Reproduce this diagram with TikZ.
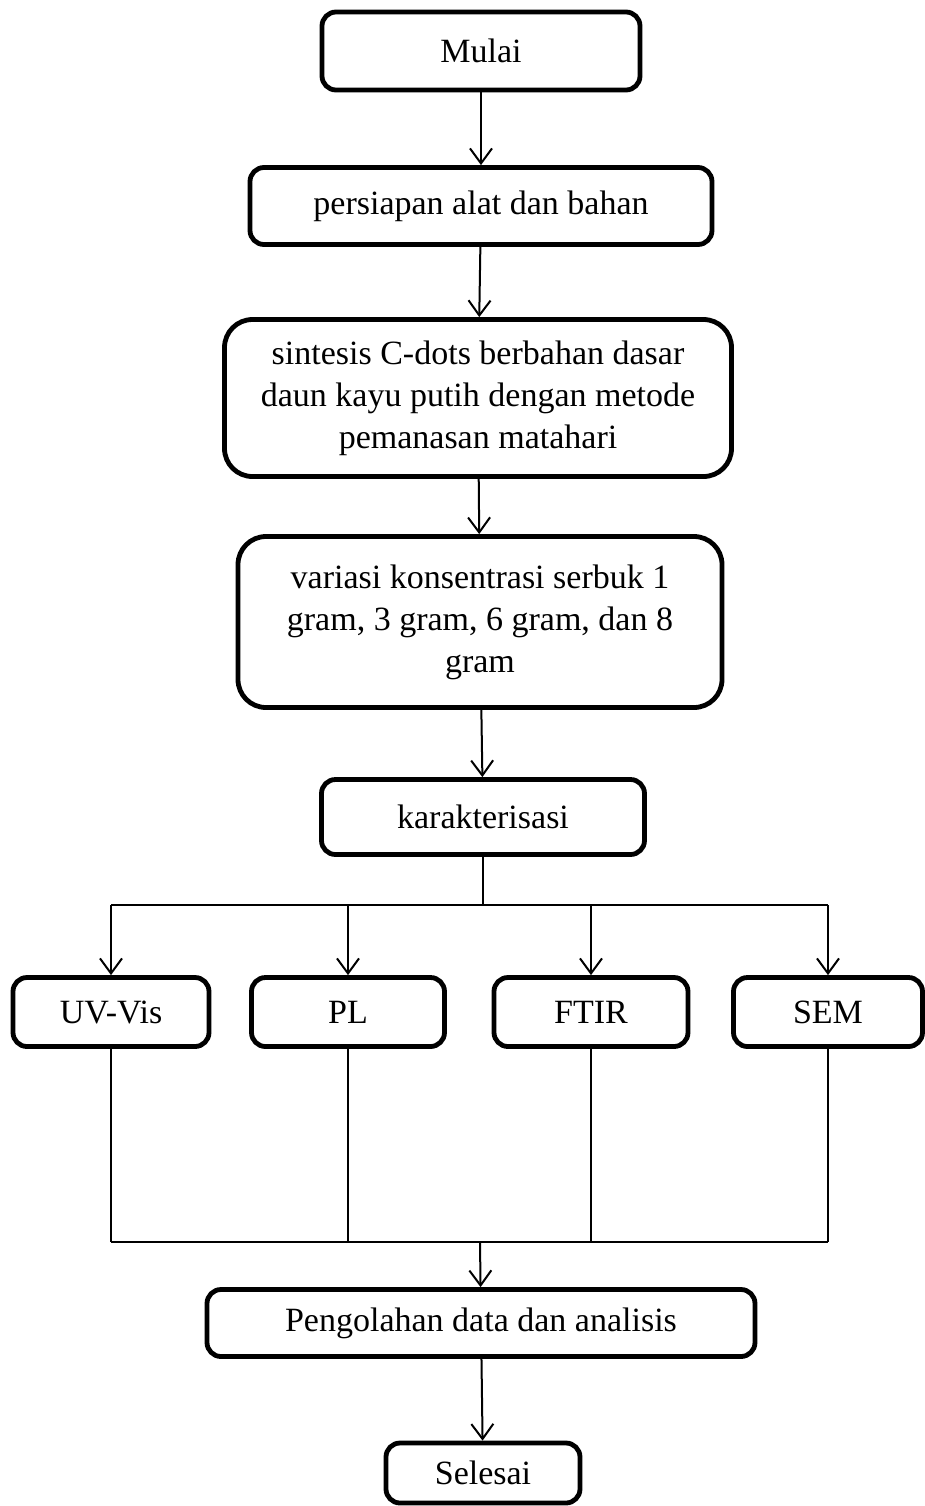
\documentclass[tikz,border=0pt]{standalone}
\usepackage{fontspec}
\setmainfont{Liberation Serif}
\usetikzlibrary{arrows.meta}
\tikzset{
  stepbox/.style={draw, line width=2.4pt, rounded corners=7pt, align=center,
    font=\fontsize{17}{21}\selectfont, inner sep=0pt},
  bigbox/.style={stepbox, rounded corners=14pt},
  arr/.style={line width=1pt, -{Straight Barb[length=7.5pt,width=11pt,line width=1pt]}},
  link/.style={line width=1pt}
}
\begin{document}
\begin{tikzpicture}[x=0.5pt,y=-0.5pt]
    \useasboundingbox (0,0) rectangle (925,1506);
    % main column
    \node[stepbox, minimum width=159pt, minimum height=39pt] (mulai) at (481,51) {Mulai};
    \node[stepbox, minimum width=231pt, minimum height=38.5pt] (persiapan) at (481,206) {persiapan alat dan bahan};
    \node[bigbox, minimum width=253.5pt, minimum height=78.5pt] (sintesis) at (478,398)
        {sintesis C-dots berbahan dasar\\daun kayu putih dengan metode\\pemanasan matahari};
    \node[bigbox, minimum width=242pt, minimum height=85.5pt] (variasi) at (480,622)
        {variasi konsentrasi serbuk 1\\gram, 3 gram, 6 gram, dan 8\\gram};
    \node[stepbox, minimum width=161.5pt, minimum height=37.5pt] (karakterisasi) at (483,817) {karakterisasi};
    % characterisation methods
    \node[stepbox, minimum width=98pt, minimum height=34.5pt] (uvvis) at (111,1012) {UV-Vis};
    \node[stepbox, minimum width=96.5pt, minimum height=34.5pt] (pl) at (348,1012) {PL};
    \node[stepbox, minimum width=97pt, minimum height=34.5pt] (ftir) at (591,1012) {FTIR};
    \node[stepbox, minimum width=94.5pt, minimum height=34.5pt] (sem) at (828,1012) {SEM};
    \node[stepbox, minimum width=274pt, minimum height=33.5pt] (pengolahan) at (481,1323) {Pengolahan data dan analisis};
    \node[stepbox, minimum width=97pt, minimum height=30pt] (selesai) at (483,1473) {Selesai};
    \coordinate (split) at (483,905);
    \coordinate (merge) at (480,1242);
    % connectors
    \draw[arr] (mulai) -- (persiapan);
    \draw[arr] (persiapan) -- (sintesis);
    \draw[arr] (sintesis) -- (variasi);
    \draw[arr] (variasi) -- (karakterisasi);
    \draw[link] (karakterisasi) -- (split);
    \draw[link] (uvvis.north |- split) -- (sem.north |- split);
    \foreach \m in {uvvis,pl,ftir,sem} {
        \draw[arr] (\m.north |- split) -- (\m.north);
        \draw[link] (\m.south) -- (\m.south |- merge);
    }
    \draw[link] (uvvis.south |- merge) -- (sem.south |- merge);
    \draw[arr] (merge) -- (pengolahan);
    \draw[arr] (pengolahan) -- (selesai);
\end{tikzpicture}
\end{document}
